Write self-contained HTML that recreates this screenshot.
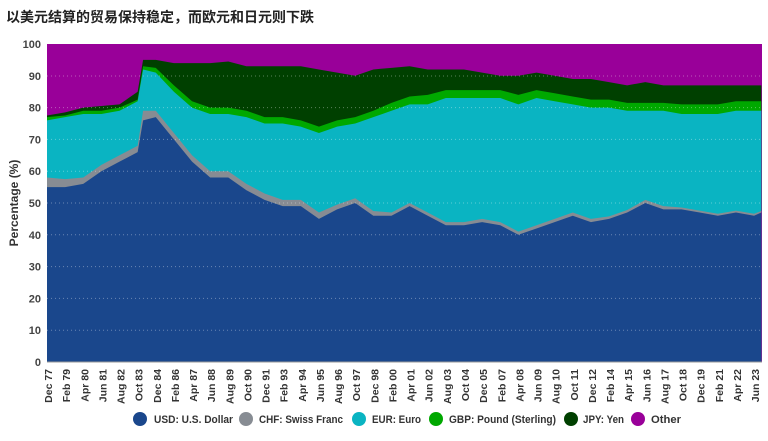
<!DOCTYPE html><html><head><meta charset="utf-8"><style>
body{margin:0;background:#fff;width:768px;height:436px;overflow:hidden;font-family:"Liberation Sans","Noto Sans CJK SC",sans-serif}
</style></head><body>
<svg id="s" width="768" height="436" xmlns="http://www.w3.org/2000/svg" font-family="Liberation Sans, Noto Sans CJK SC, sans-serif">
<text x="6" y="22" font-size="14" font-weight="bold" fill="#222">以美元结算的贸易保持稳定，而欧元和日元则下跌</text>
<g id="areas"></g>
<g stroke="#ffffff" stroke-opacity="0.35" stroke-dasharray="1,3" stroke-width="1">
<line x1="47" x2="762" y1="76" y2="76"/><line x1="47" x2="762" y1="107.6" y2="107.6"/><line x1="47" x2="762" y1="139.4" y2="139.4"/><line x1="47" x2="762" y1="171.2" y2="171.2"/><line x1="47" x2="762" y1="203" y2="203"/><line x1="47" x2="762" y1="234.8" y2="234.8"/><line x1="47" x2="762" y1="266.6" y2="266.6"/><line x1="47" x2="762" y1="298.4" y2="298.4"/><line x1="47" x2="762" y1="330.2" y2="330.2"/>
</g>
<line x1="47" x2="762" y1="362" y2="362" stroke="#999" stroke-width="1"/>
<g font-size="11" font-weight="bold" fill="#444" text-anchor="end">
<text x="41" y="48">100</text><text x="41" y="80">90</text><text x="41" y="111.6">80</text><text x="41" y="143.4">70</text><text x="41" y="175.2">60</text><text x="41" y="207">50</text><text x="41" y="238.8">40</text><text x="41" y="270.6">30</text><text x="41" y="302.4">20</text><text x="41" y="334.2">10</text><text x="41" y="366">0</text>
</g>
<text transform="translate(18,203) rotate(-90)" font-size="12" font-weight="bold" fill="#333" text-anchor="middle">Percentage (%)</text>
<g id="xl" font-size="10.5" font-weight="bold" fill="#333" text-anchor="end">
<text transform="translate(52,369) rotate(-90)">Dec 77</text>
<text transform="translate(70.1,369) rotate(-90)">Feb 79</text>
<text transform="translate(88.3,369) rotate(-90)">Apr 80</text>
<text transform="translate(106.4,369) rotate(-90)">Jun 81</text>
<text transform="translate(124.5,369) rotate(-90)">Aug 82</text>
<text transform="translate(142.7,369) rotate(-90)">Oct 83</text>
<text transform="translate(160.8,369) rotate(-90)">Dec 84</text>
<text transform="translate(178.9,369) rotate(-90)">Feb 86</text>
<text transform="translate(197,369) rotate(-90)">Apr 87</text>
<text transform="translate(215.2,369) rotate(-90)">Jun 88</text>
<text transform="translate(233.3,369) rotate(-90)">Aug 89</text>
<text transform="translate(251.4,369) rotate(-90)">Oct 90</text>
<text transform="translate(269.6,369) rotate(-90)">Dec 91</text>
<text transform="translate(287.7,369) rotate(-90)">Feb 93</text>
<text transform="translate(305.8,369) rotate(-90)">Apr 94</text>
<text transform="translate(324,369) rotate(-90)">Jun 95</text>
<text transform="translate(342.1,369) rotate(-90)">Aug 96</text>
<text transform="translate(360.2,369) rotate(-90)">Oct 97</text>
<text transform="translate(378.3,369) rotate(-90)">Dec 98</text>
<text transform="translate(396.5,369) rotate(-90)">Feb 00</text>
<text transform="translate(414.6,369) rotate(-90)">Apr 01</text>
<text transform="translate(432.7,369) rotate(-90)">Jun 02</text>
<text transform="translate(450.9,369) rotate(-90)">Aug 03</text>
<text transform="translate(469,369) rotate(-90)">Oct 04</text>
<text transform="translate(487.1,369) rotate(-90)">Dec 05</text>
<text transform="translate(505.3,369) rotate(-90)">Feb 07</text>
<text transform="translate(523.4,369) rotate(-90)">Apr 08</text>
<text transform="translate(541.5,369) rotate(-90)">Jun 09</text>
<text transform="translate(559.7,369) rotate(-90)">Aug 10</text>
<text transform="translate(577.8,369) rotate(-90)">Oct 11</text>
<text transform="translate(595.9,369) rotate(-90)">Dec 12</text>
<text transform="translate(614,369) rotate(-90)">Feb 14</text>
<text transform="translate(632.2,369) rotate(-90)">Apr 15</text>
<text transform="translate(650.3,369) rotate(-90)">Jun 16</text>
<text transform="translate(668.4,369) rotate(-90)">Aug 17</text>
<text transform="translate(686.6,369) rotate(-90)">Oct 18</text>
<text transform="translate(704.7,369) rotate(-90)">Dec 19</text>
<text transform="translate(722.8,369) rotate(-90)">Feb 21</text>
<text transform="translate(741,369) rotate(-90)">Apr 22</text>
<text transform="translate(759.1,369) rotate(-90)">Jun 23</text>
</g>
<g font-size="11" font-weight="bold" fill="#333">
<circle cx="140" cy="419" r="7" fill="#1a478c"/><text x="154" y="423" textLength="79" lengthAdjust="spacingAndGlyphs">USD: U.S. Dollar</text>
<circle cx="246" cy="419" r="7" fill="#878c93"/><text x="259" y="423" textLength="84" lengthAdjust="spacingAndGlyphs">CHF: Swiss Franc</text>
<circle cx="359" cy="419" r="7" fill="#0ab4c2"/><text x="372" y="423" textLength="49" lengthAdjust="spacingAndGlyphs">EUR: Euro</text>
<circle cx="436" cy="419" r="7" fill="#00a800"/><text x="449" y="423" textLength="107" lengthAdjust="spacingAndGlyphs">GBP: Pound (Sterling)</text>
<circle cx="571" cy="419" r="7" fill="#004000"/><text x="583" y="423" textLength="41" lengthAdjust="spacingAndGlyphs">JPY: Yen</text>
<circle cx="638" cy="419" r="7" fill="#990099"/><text x="651" y="423" textLength="30" lengthAdjust="spacingAndGlyphs">Other</text>
</g>
</svg>
<script>
var X=function(i){return 47+18.13*i;};
var idx=[0,1,2,3,4,5,5.3,6,7,8,9,10,11,12,13,14,15,16,17,18,19,20,21,22,23,24,25,26,27,28,29,30,31,32,33,34,35,36,37,38,39,39.4];
var usd=[55,55,56,60,63,66,76,77,70,63,58,58,54,51,49,49,45,48,50,46,46,49,46,43,43,44,43,40,42,44,46,44,45,47,50,48,48,47,46,47,46,47];
var chf=[58,57.5,58,62,65,68,79,79,72,65,60,60,56,53,51,51,47,49.5,51.5,47.5,47,50,47,44,44,45,44,41,43,45,47,45,45.8,47.8,51,49,48.6,47.6,46.6,47.6,46.6,47.5];
var eur=[76,77,78,78,79,82,92,91,85,80,78,78,77,75,75,74,72,74,75,77,79,81,81,83,83,83,83,81,83,82,81,80,80,79,79,79,78,78,78,79,79,79];
var gbp=[77,77.5,79,79,80,82.5,93,92.5,87,82,80,80,79,77,77,76,74,76,77,79,81.5,83.5,84,85.5,85.5,85.5,85.5,84,85.5,84.5,83.5,82.5,82.5,81.5,81.5,81.5,81,81,81,82,82,82];
var jpy=[77.5,78.5,80,80.5,81,85,95,95,94,94,94,94.5,93,93,93,93,92,91,90,92,92.5,93,92,92,92,91,90,90,91,90,89,89,88,87,88,87,87,87,87,87,87,87];
var Y=function(v){return 362-3.18*v;};
function band(lo,hi,c){var p=[];for(var i=0;i<idx.length;i++)p.push(X(idx[i])+','+Y(hi[i]));for(var i=idx.length-1;i>=0;i--)p.push(X(idx[i])+','+Y(lo?lo[i]:0));return '<polygon fill="'+c+'" points="'+p.join(' ')+'"/>';}
document.getElementById('areas').innerHTML='<rect x="47" y="44" width="715" height="318" fill="#990099"/>'+band(null,jpy,'#004000')+band(null,gbp,'#00a800')+band(null,eur,'#0ab4c2')+band(null,chf,'#878c93')+band(null,usd,'#1a478c');
</script>
</body></html>
